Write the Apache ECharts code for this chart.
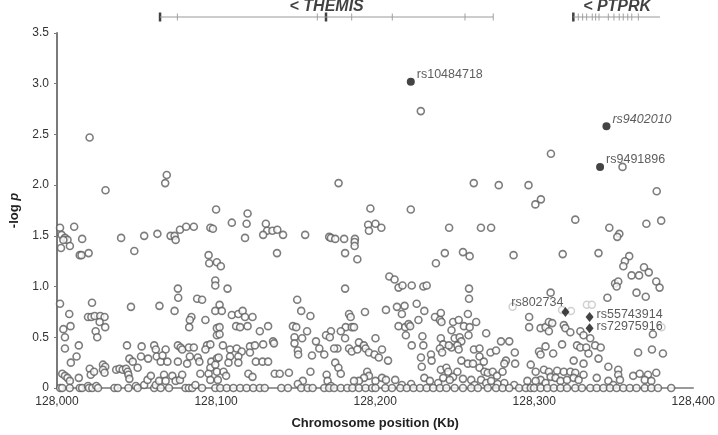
<!DOCTYPE html>
<html>
<head>
<meta charset="utf-8">
<script src="https://cdn.jsdelivr.net/npm/echarts@6/dist/echarts.min.js"></script>
<style>html,body{margin:0;padding:0;background:#fff}#c{width:718px;height:435px}</style>
</head>
<body>
<div id="c"></div>
<script>
// ---- Data (position in Kb, -log p) ----
const xTicks = [128000, 128100, 128200, 128300, 128400];
const yTicks = [0, 0.5, 1.0, 1.5, 2.0, 2.5, 3.0, 3.5];

const snpsUpper = [
[128020.5,2.47],[128030.5,1.95],[128069,2.10],[128068,2.02],[128100,1.76],
[128228.7,2.73],[128177,2.02],[128262,2.02],[128197,1.77],[128222.4,1.76],
[128310.5,2.31],[128355.5,2.18],[128277.7,2.0],[128296.4,2.0],[128304.2,1.86],[128300.7,1.81],[128377,1.94]
];
const snpsBlockA = [
[128001.9,1.58],[128010.8,1.59],[128002.9,1.51],[128005,1.48],[128006.6,1.46],[128004,1.46],[128002.5,1.38],[128008.1,1.40],[128015.8,1.47],[128014.3,1.31],[128015.4,1.31],[128019.9,1.33],[128040.3,1.48],[128054.8,1.50],[128063.1,1.52],[128048.6,1.35],[128071.4,1.50],[128073.9,1.50],[128074.6,1.46],[128077.3,1.56],[128081.2,1.59],[128086,1.59],[128096.4,1.58],[128098,1.57],[128095.3,1.31],[128095.7,1.23],[128100.5,1.24],[128099.5,1.06],[128099.5,1.01],
[128001.9,0.83],[128007.7,0.73],[128022,0.84],[128004,0.58],[128008.5,0.61],[128005,0.50],[128005,0.39],[128013.7,0.42],[128019.5,0.70],[128021.6,0.70],[128023.7,0.71],[128027.2,0.71],[128029.9,0.70],[128026.8,0.65],[128024.3,0.56],[128025.3,0.50],[128030.3,0.60],[128046.5,0.80],[128064.4,0.81],[128073.9,0.76],[128076,0.98],[128076.2,0.89],[128088.1,0.88],[128091.2,0.87],[128084.5,0.70],[128083.5,0.67],[128083.1,0.60],[128093.3,0.67],[128099.5,0.76],[128100.5,0.59],[128100.5,0.52],
[128008.7,0.25],[128012.3,0.31],[128003.3,0.14],[128005,0.12],[128006.6,0.10],[128008.1,0.07],[128013.7,0.10],[128020.6,0.19],[128021.2,0.13],[128023.3,0.16],[128028.9,0.23],[128030.3,0.21],[128028.9,0.18],[128029.9,0.15],[128037.2,0.18],[128039.3,0.19],[128041.3,0.18],[128043.4,0.19],[128044.4,0.16],[128044.9,0.13],[128045.5,0.09],[128044,0.42],[128045.5,0.29],[128047.6,0.26],[128053.2,0.41],[128052.8,0.31],[128050.7,0.20],[128057.3,0.29],[128061.1,0.42],[128062.1,0.38],[128062.7,0.31],[128065.2,0.26],[128068.3,0.38],[128069.4,0.26],[128066.3,0.32],[128076,0.42],[128077.7,0.40],[128076,0.26],[128078.7,0.38],[128082.9,0.40],[128086,0.40],[128083.5,0.31],[128088.5,0.30],[128089.5,0.26],[128094.3,0.42],[128096.4,0.43],[128093.3,0.38],[128097,0.26],[128100.5,0.29],[128081.8,0.24],[128090.1,0.14],[128096.4,0.20],[128095.3,0.14],[128100.5,0.16],
[128002,0],[128008,0],[128003.3,0],[128014.3,0],[128015.8,0],[128019.5,0.02],[128020.1,0],[128022.2,0],[128024.7,0.02],[128025.8,0],[128036.1,0],[128038.2,0],[128044.9,0],[128049.6,0.02],[128050.7,0],[128054.8,0.03],[128056.9,0.08],[128059,0.12],[128061.1,0],[128062.1,0.03],[128064.2,0.07],[128065.2,0],[128067.3,0.13],[128068.3,0.07],[128070.4,0],[128072.5,0.12],[128074.6,0.07],[128077.3,0.08],[128078.7,0.13],[128080.8,0],[128082.9,0],[128085,0],[128087,0.03],[128091.2,0],[128096.4,0.08],[128099.5,0],[128101.1,0.08]
];
const snpsBlockB = [
[128119.8,1.72],[128109.9,1.63],[128119.2,1.62],[128118.2,1.48],[128131.3,1.62],[128132.1,1.55],[128129.6,1.51],[128135.4,1.55],[128138.5,1.56],[128142.1,1.51],[128138.3,1.33],[128156,1.51],[128171.1,1.49],[128172.2,1.48],[128174.9,1.47],[128180.5,1.47],[128187.3,1.47],[128187.1,1.44],[128187.1,1.40],[128181.1,1.33],[128188.8,1.27],[128195.6,1.61],[128196.1,1.55],[128200.2,1.62],[128103,1.20],[128107.2,0.98],[128181.1,0.98],
[128102.2,0.82],[128103.6,0.76],[128109.9,0.72],[128114,0.73],[128116.7,0.76],[128118.2,0.70],[128122.9,0.70],[128112.6,0.61],[128115.1,0.60],[128119.8,0.61],[128102.2,0.60],[128102.2,0.53],[128132.7,0.61],[128127.5,0.56],[128135.8,0.46],[128136.4,0.44],[128151,0.87],[128153.5,0.76],[128159.3,0.71],[128148.3,0.61],[128150.4,0.60],[128157.2,0.56],[128149.3,0.50],[128154.1,0.49],[128149.3,0.44],[128183.6,0.73],[128184.6,0.70],[128181.5,0.60],[128185.3,0.60],[128186.7,0.60],[128178.4,0.56],[128172.2,0.56],[128169.1,0.52],[128171.5,0.50],[128181.1,0.49],[128193.6,0.75],[128162.8,0.46],[128200.2,0.49],[128189.8,0.45],[128192.9,0.42],
[128104.3,0.42],[128108.8,0.38],[128113,0.39],[128116.1,0.36],[128114,0.31],[128114,0.25],[128121.3,0.41],[128124.4,0.42],[128129.6,0.43],[128121.3,0.35],[128108.8,0.31],[128107.8,0.25],[128101.6,0.30],[128099.5,0.23],[128125,0.26],[128129.2,0.26],[128132.7,0.26],[128104.7,0.16],[128106.3,0.12],[128120.3,0.14],[128122.9,0.11],[128136.9,0.14],[128140,0.14],[128145.8,0.15],[128151.4,0.37],[128151.6,0.33],[128160.3,0.32],[128164.9,0.39],[128168,0.33],[128176.3,0.39],[128174.2,0.39],[128174.9,0.25],[128176.9,0.20],[128178.4,0.14],[128169.5,0.13],[128170.1,0.07],[128159.3,0.16],[128183.6,0.39],[128185.3,0.36],[128188.8,0.38],[128194,0.39],[128196.1,0.35],[128199.6,0.33],[128195,0.16],[128196.1,0.12],[128193,0.10],[128189.8,0.07],[128186.7,0.07],[128154.5,0.07],[128151.4,0.04],[128172.2,0.02],[128200.2,0.07],
[128102.6,0],[128106.7,0],[128110.9,0],[128115.1,0],[128119.2,0],[128123.4,0],[128127.5,0],[128130.6,0],[128141,0],[128145.2,0],[128153.5,0],[128157.6,0],[128160.7,0],[128168,0],[128171.1,0],[128174.2,0],[128178.4,0],[128182.5,0],[128185.7,0],[128189.8,0],[128194,0],[128198.1,0]
];
const snpsBlockC = [
[128203.9,1.58],[128246.5,1.58],[128266.5,1.58],[128272.9,1.58],[128243.8,1.33],[128255.2,1.34],[128259.4,1.30],[128238.2,1.23],[128287,1.31],
[128208.9,1.10],[128212.2,1.07],[128214.7,0.99],[128217.2,1.01],[128223,1.01],[128230.3,1.00],[128232.4,1.01],[128259,0.98],[128259,0.88],[128206.8,0.77],[128213.7,0.80],[128218.5,0.81],[128216.8,0.73],[128226.1,0.83],[128230.9,0.76],[128214.7,0.61],[128218.9,0.60],[128221,0.63],[128222,0.61],[128219.3,0.52],[128227.2,0.67],[128237.6,0.70],[128241.3,0.74],[128240.7,0.67],[128241.7,0.65],[128249,0.65],[128252.5,0.67],[128255.8,0.61],[128258.3,0.73],[128259.4,0.60],[128263.5,0.65],[128248,0.57],[128258.7,0.52],[128269.8,0.54],[128241.3,0.49],[128250,0.49],[128253.1,0.50],[128204.3,0.38],[128223,0.42],[128230.3,0.42],[128229.7,0.51],[128242.8,0.43],[128248,0.40],[128246.3,0.42],[128254.2,0.46],[128251.7,0.42],[128240.7,0.39],[128242.1,0.35],[128252.5,0.38],[128262.1,0.38],[128265.6,0.39],[128279.1,0.46],[128284.3,0.46],[128272.5,0.35],[128276,0.37],[128287.8,0.35],[128296.8,0.60],[128296.8,0.70],
[128202.3,0.30],[128208.1,0.27],[128228.8,0.30],[128235.1,0.33],[128235.5,0.27],[128229.3,0.21],[128254.2,0.27],[128258.3,0.24],[128261.5,0.24],[128265.6,0.31],[128268.3,0.26],[128241.3,0.18],[128244.8,0.20],[128245.9,0.16],[128249,0.11],[128251.7,0.16],[128255.2,0.09],[128265.6,0.20],[128268.7,0.16],[128270.8,0.15],[128273.9,0.16],[128276.6,0.12],[128280.1,0.16],[128282.2,0.27],[128281.2,0.24],[128288,0.24],[128297.8,0.23],[128204.3,0.10],[128206.8,0.08],[128212.6,0.08],[128216.8,0.03],[128222.6,0.04],[128230.9,0.10],[128234.4,0.07],[128239.6,0.05],[128242.8,0.10],[128246.9,0.08],[128260.4,0.08],[128262.5,0.03],[128266.6,0.08],[128269.8,0.05],[128272.9,0.07],[128277,0.04],[128281.2,0.05],[128287.4,0.03],[128295.7,0.07],
[128200.2,0],[128206.4,0],[128210.6,0],[128215.8,0],[128219.9,0],[128224.1,0],[128228.2,0],[128232.4,0],[128236.5,0],[128240.7,0],[128244.8,0],[128250,0],[128255.2,0],[128260.4,0],[128264.6,0],[128270.8,0],[128276,0],[128280.1,0],[128284.3,0],[128290.5,0],[128294.7,0],[128297.8,0]
];
const snpsBlockD = [
[128325.8,1.66],[128347.2,1.58],[128353.5,1.52],[128352.2,1.49],[128370.5,1.62],[128379.8,1.65],[128317.9,1.32],[128340.4,1.33],[128359.7,1.30],[128357,1.25],[128356,1.20],[128361.2,1.11],[128365.9,1.11],[128369,1.19],[128372,1.14],[128376.7,1.05],[128378.8,0.99],[128350.8,1.03],[128352.8,1.05],[128351.8,1.00],[128364.3,0.94],[128370.1,0.90],[128346,0.89],[128310.3,0.94],
[128304,0.59],[128307.1,0.60],[128309.2,0.65],[128311.3,0.64],[128318.6,0.62],[128319.6,0.59],[128309.2,0.56],[128322.7,0.55],[128329,0.56],[128331,0.52],[128374.6,0.53],[128317.5,0.43],[128326.9,0.42],[128329,0.40],[128332.7,0.40],[128335.2,0.49],[128338.3,0.42],[128341.8,0.40],[128307.1,0.41],[128303,0.36],[128304,0.33],[128311.9,0.34],[128334.1,0.34],[128340.4,0.29],[128365.3,0.35],[128374,0.38],[128380.9,0.34],[128324.8,0.27],[128331,0.24],[128346.6,0.21],[128352.8,0.18],
[128300.9,0.16],[128306.1,0.18],[128309.2,0.16],[128314.4,0.17],[128318.6,0.16],[128322.7,0.16],[128325.8,0.15],[128310.3,0.11],[128304,0.08],[128313.4,0.10],[128316.5,0.07],[128320.6,0.08],[128324.8,0.10],[128327.9,0.08],[128331,0.13],[128307.1,0.05],[128300.9,0.07],[128339.3,0.10],[128352.8,0.13],[128353.9,0.08],[128362.2,0.12],[128366.3,0.14],[128371.5,0.13],[128376.7,0.15],[128369.5,0.08],[128373.6,0.07],[128346.6,0.07],[128349.7,0.03],
[128299.9,0],[128304,0],[128308.2,0],[128312.3,0],[128316.5,0],[128320.6,0],[128325.8,0],[128330,0],[128335.2,0],[128339.3,0],[128343.5,0],[128347.6,0],[128351.8,0],[128356,0],[128360.1,0],[128364.3,0],[128369.5,0],[128373.6,0],[128377.8,0],[128386.1,0]
];
const faintSnps = [[128317.5,0.77],[128323.1,0.76],[128333.1,0.82],[128336.2,0.82],[128286.4,0.80],[128380,0.60]];
const leadSnps = [
  {name:'rs10484718', value:[128222.4,3.02], italic:false},
  {name:'rs9402010',  value:[128345.4,2.58], italic:true},
  {name:'rs9491896',  value:[128341.4,2.18], italic:false}
];
const diamondSnps = [
  {name:'rs802734',   value:[128319.6,0.75], side:'left'},
  {name:'rs55743914', value:[128334.8,0.70], side:'right'},
  {name:'rs72975916', value:[128334.8,0.59], side:'right'}
];
// gene tracks (Kb)
const geneNames = ['< THEMIS', '< PTPRK'];
const geneLabelPos = [128168, 128349];
const themisSpan = [128064.2, 128271.8];
const ptprkSpan = [128321.7, 128375.7];
const thinExons = [128075.0,128162.2,128183.6,128208.9,128254.2,128271.8,
  128324.8,128327.5,128330.0,128333.5,128335.6,128337.7,128343.5,128347.0,128350.3,128352.8,128355.6,128358.1,128362.2];
const thickExons = [128064.2,128167.6,128321.7];

const allSnps = snpsUpper.concat(snpsBlockA, snpsBlockB, snpsBlockC, snpsBlockD);

const chart = echarts.init(document.getElementById('c'), null, {renderer:'canvas'});
const FONT = 'Liberation Sans, Arial, sans-serif';
const fmtComma = v => String(v).replace(/\B(?=(\d{3})+(?!\d))/g, ',');

const labelStyle = {show:true, color:'#333', fontSize:12.5, fontFamily:FONT};

chart.setOption({
  animation:false,
  backgroundColor:'#fff',
  grid:[
    {left:57, right:19, top:33, bottom:45, containLabel:false},
    {left:57, right:19, top:1, height:32, containLabel:false}
  ],
  xAxis:[
    {type:'value', gridIndex:0, min:xTicks[0], max:xTicks[xTicks.length-1], interval:100,
     axisLine:{show:true, onZero:false, lineStyle:{color:'#7a7a7a', width:1.5}},
     axisTick:{show:false}, splitLine:{show:false},
     axisLabel:{color:'#333', fontSize:12, fontFamily:FONT, margin:8, formatter:v=>fmtComma(v)},
     name:'Chromosome position (Kb)', nameLocation:'middle', nameGap:29,
     nameTextStyle:{color:'#222', fontSize:13, fontWeight:'bold', fontFamily:FONT}},
    {type:'value', gridIndex:1, min:xTicks[0], max:xTicks[xTicks.length-1], show:false}
  ],
  yAxis:[
    {type:'value', gridIndex:0, min:yTicks[0], max:yTicks[yTicks.length-1], interval:0.5,
     axisLine:{show:true, lineStyle:{color:'#7a7a7a', width:2}},
     axisTick:{show:true, length:3, lineStyle:{color:'#7a7a7a'}}, splitLine:{show:false},
     axisLabel:{color:'#333', fontSize:12, fontFamily:FONT, margin:8, formatter:v=> v===0?'0':v.toFixed(1)},
     name:'{a|-log }{b|p}', nameLocation:'middle', nameGap:30, nameRotate:90,
     nameTextStyle:{rich:{a:{fontSize:13, fontWeight:'bold', color:'#222', fontFamily:FONT},
                          b:{fontSize:13, fontWeight:'bold', fontStyle:'italic', color:'#222', fontFamily:FONT}}}},
    {type:'value', gridIndex:1, min:-1, max:1, show:false}
  ],
  series:[
    {type:'scatter', xAxisIndex:0, yAxisIndex:0, data:allSnps, symbol:'circle', symbolSize:7,
     itemStyle:{color:'#fff', borderColor:'#5c5c5c', borderWidth:1.6}, silent:true},
    {type:'scatter', xAxisIndex:0, yAxisIndex:0, data:faintSnps, symbol:'circle', symbolSize:7,
     itemStyle:{color:'#fff', borderColor:'#c6c6c6', borderWidth:1.5}, silent:true},
    {type:'scatter', xAxisIndex:0, yAxisIndex:0, symbol:'circle', symbolSize:8,
     itemStyle:{color:'#151515'}, silent:true,
     data:leadSnps.map(d=>({name:d.name, value:d.value,
       label:Object.assign({}, labelStyle, {position:'right', distance:2, offset:[0,-7],
         fontStyle:d.italic?'italic':'normal', formatter:'{b}'})}))},
    {type:'scatter', xAxisIndex:0, yAxisIndex:0, symbol:'diamond', symbolSize:[8,10],
     itemStyle:{color:'#151515'}, silent:true,
     data:diamondSnps.map(d=>({name:d.name, value:d.value,
       label:Object.assign({}, labelStyle, d.side==='left'
         ? {position:'left', distance:-2, offset:[0,-9], formatter:'{b}'}
         : {position:'right', distance:3, offset:[0,-2], formatter:'{b}'})}))},
    // gene tracks
    {type:'line', xAxisIndex:1, yAxisIndex:1, data:[[themisSpan[0],0],[themisSpan[1],0]], symbol:'none',
     lineStyle:{color:'#9a9a9a', width:1}, silent:true},
    {type:'line', xAxisIndex:1, yAxisIndex:1, data:[[ptprkSpan[0],0],[ptprkSpan[1],0]], symbol:'none',
     lineStyle:{color:'#9a9a9a', width:1}, silent:true},
    {type:'scatter', xAxisIndex:1, yAxisIndex:1, data:thinExons.map(x=>[x,0]), symbol:'rect', symbolSize:[1,7],
     itemStyle:{color:'#8a8a8a'}, silent:true},
    {type:'scatter', xAxisIndex:1, yAxisIndex:1, data:thickExons.map(x=>[x,0]), symbol:'rect', symbolSize:[2.5,9],
     itemStyle:{color:'#111'}, silent:true},
    {type:'scatter', xAxisIndex:1, yAxisIndex:1, symbolSize:0, silent:true,
     data:geneNames.map((n,i)=>({name:n, value:[geneLabelPos[i],0.68]})),
     label:{show:true, position:'inside', formatter:'{b}', color:'#111', fontSize:16,
       fontWeight:'bold', fontStyle:'italic', fontFamily:FONT}}
  ]
});
</script>
</body>
</html>
